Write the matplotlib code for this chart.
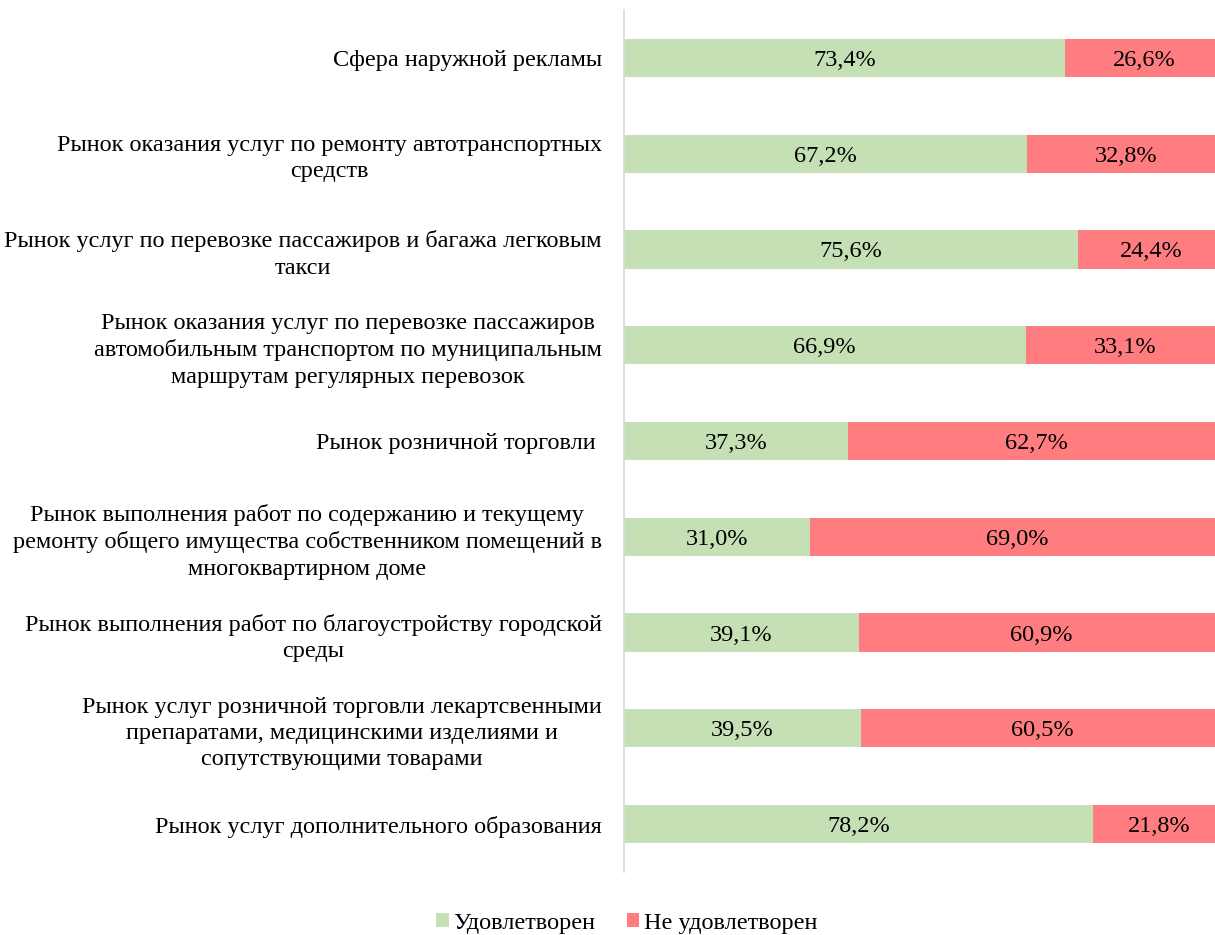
import matplotlib.pyplot as plt
import numpy as np

plt.rcParams['font.family'] = ['Liberation Serif', 'DejaVu Serif']

categories = [
    "Сфера наружной рекламы",
    "Рынок оказания услуг по ремонту автотранспортных\nсредств",
    "Рынок услуг по перевозке пассажиров и багажа легковым\nтакси",
    "Рынок оказания услуг по перевозке пассажиров\nавтомобильным транспортом по муниципальным\nмаршрутам регулярных перевозок",
    "Рынок розничной торговли ",
    "Рынок выполнения работ по содержанию и текущему\nремонту общего имущества собственником помещений в\nмногоквартирном доме",
    "Рынок выполнения работ по благоустройству городской\nсреды",
    "Рынок услуг розничной торговли лекартсвенными\nпрепаратами, медицинскими изделиями и\nсопутствующими товарами",
    "Рынок услуг дополнительного образования",
]
satisfied = [73.4, 67.2, 75.6, 66.9, 37.3, 31.0, 39.1, 39.5, 78.2]
not_satisfied = [26.6, 32.8, 24.4, 33.1, 62.7, 69.0, 60.9, 60.5, 21.8]
series_names = ["Удовлетворен", "Не удовлетворен"]

green = "#c5e0b4"
red = "#ff7c80"
fs = 17.5


def fmt(v):
    return f"{v:.1f}%".replace(".", ",")


fig = plt.figure(figsize=(12.15, 9.35), dpi=100)
ax = fig.add_axes([0.5136, 0.0674, 0.494, 0.9219])

y = np.arange(len(categories))
b1 = ax.barh(y, satisfied, height=0.4, color=green, label=series_names[0])
b2 = ax.barh(y, not_satisfied, left=satisfied, height=0.4, color=red, label=series_names[1])

for bars, vals in ((b1, satisfied), (b2, not_satisfied)):
    for rect, v in zip(bars, vals):
        ax.text(rect.get_x() + rect.get_width() / 2, rect.get_y() + rect.get_height() / 2,
                fmt(v), ha='center', va='center_baseline', fontsize=fs, color='black')

ax.set_xlim(0, 100)
ax.set_ylim(len(categories) - 0.5, -0.5)
ax.set_yticks(y)
ax.set_yticklabels(categories, fontsize=fs, multialignment='center', linespacing=1.32)
ax.tick_params(axis='y', length=0, pad=16)
ax.set_xticks([])
for s in ['top', 'right', 'bottom']:
    ax.spines[s].set_visible(False)
ax.spines['left'].set_color('#d9d9d9')
ax.spines['left'].set_linewidth(1.2)

fig.legend(handles=[b1, b2], labels=series_names, loc='lower center',
           bbox_to_anchor=(0.516, -0.022), ncol=2, frameon=False, fontsize=fs,
           handlelength=0.5, handleheight=0.5, handletextpad=0.2, columnspacing=1.3)

fig.savefig('out.png', dpi=100)
